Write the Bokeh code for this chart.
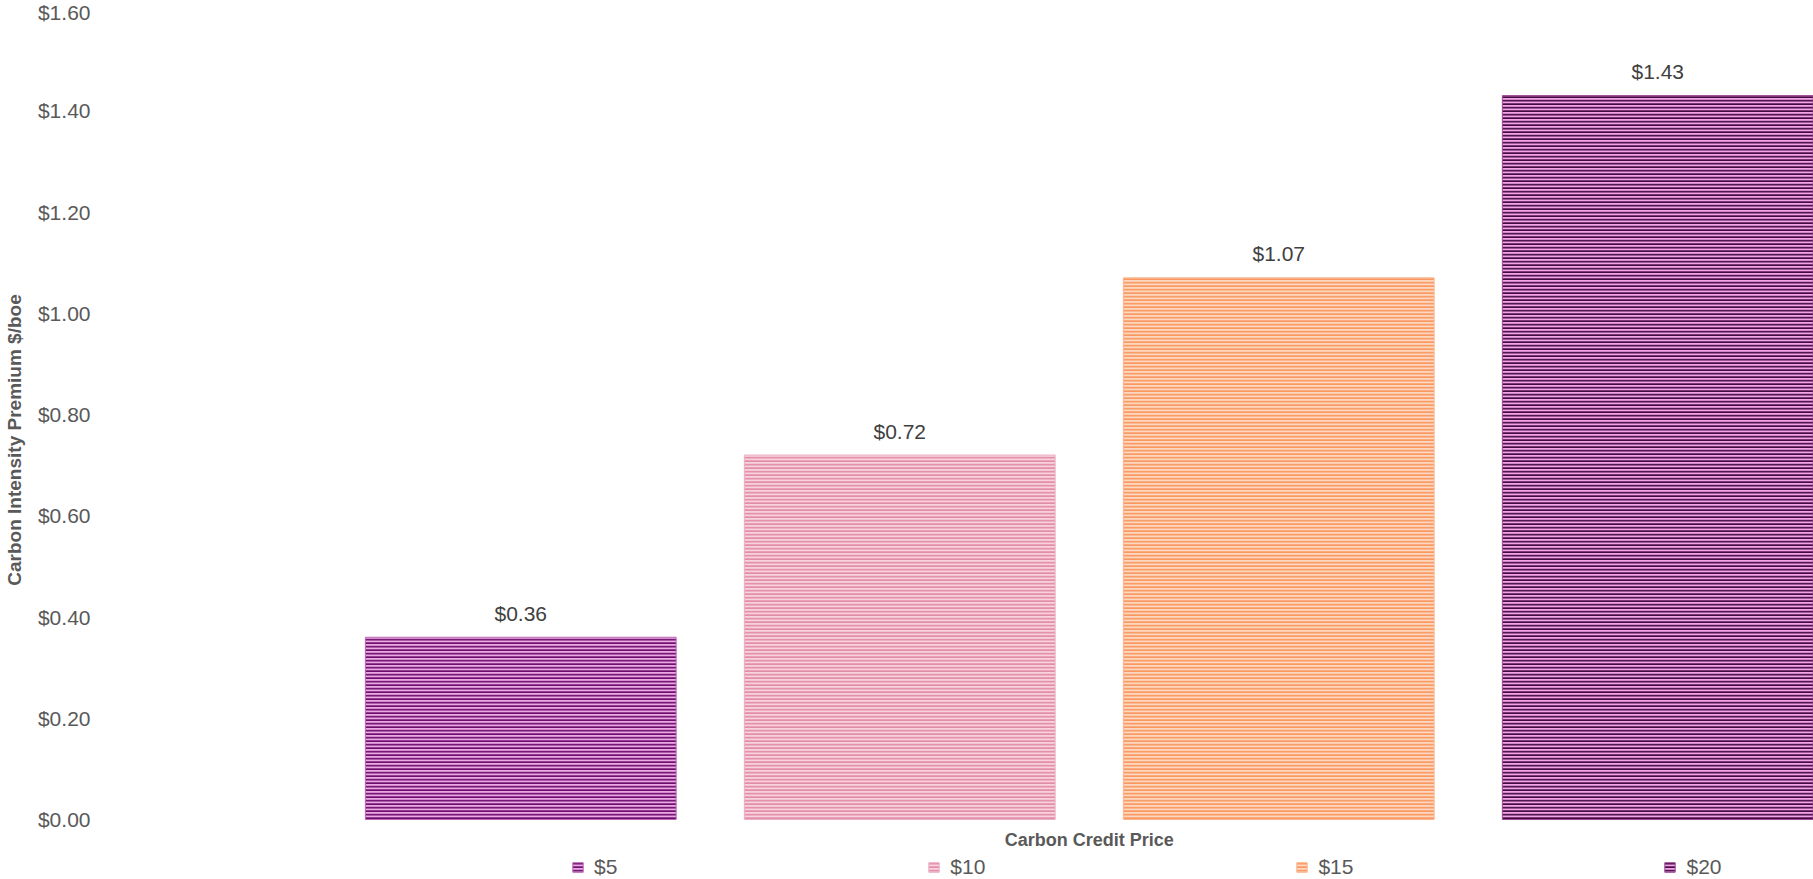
from bokeh.core.properties import value
from bokeh.embed import file_html
from bokeh.models import (ColumnDataSource, FixedTicker, Label, Legend,
                          LegendItem, NumeralTickFormatter, Range1d)
from bokeh.plotting import figure
from bokeh.resources import INLINE

# Carbon intensity premium ($/boe) at each carbon credit price
series = ["$5", "$10", "$15", "$20"]
premium = [0.36, 0.72, 1.07, 1.43]

# Striped fills: stripe colour over a lighter ground
stripe_colors = ["#6c0e6b", "#e38ba8", "#f9975f", "#440a40"]
ground_colors = ["#eba8e5", "#f7d2dd", "#fdd7c0", "#f3a3ea"]
edge_colors = ["#b866b6", "#eab0c3", "#fbb68f", "#9a4a93"]

y_ticks = [0.0, 0.2, 0.4, 0.6, 0.8, 1.0, 1.2, 1.4, 1.6]

positions = [i + 1 for i in range(len(series))]
labels = [f"${v:.2f}" for v in premium]

source = ColumnDataSource(dict(
    x=positions, top=premium, series=series, label=labels,
    stripe=stripe_colors, ground=ground_colors, edge=edge_colors,
))

FONT = "Liberation Sans"

# The frame runs to the bottom edge so the legend and the category title
# can sit inside it, below the zero line.
p = figure(
    width=1813, height=879,
    x_range=Range1d(-0.0535, 4.411),
    y_range=Range1d(-0.1185, 1.6178),
    output_backend="svg", toolbar_location=None,
    min_border_left=120, min_border_right=0,
    min_border_top=0, min_border_bottom=0,
    outline_line_color=None,
)
p.xaxis.visible = False
p.xgrid.visible = False
p.ygrid.visible = False

yax = p.yaxis[0]
yax.ticker = FixedTicker(ticks=y_ticks)
yax.formatter = NumeralTickFormatter(format="$0.00")
yax.axis_line_color = None
yax.major_tick_line_color = None
yax.minor_tick_line_color = None
yax.major_tick_out = 0
yax.major_label_standoff = 31
yax.major_label_text_font = FONT
yax.major_label_text_font_size = "21px"
yax.major_label_text_color = "#595959"
yax.axis_label = "Carbon Intensity Premium $/boe"
yax.axis_label_standoff = 10
yax.axis_label_text_font = FONT
yax.axis_label_text_font_style = "bold"
yax.axis_label_text_font_size = "19px"
yax.axis_label_text_color = "#595959"

bars = p.vbar(
    x="x", top="top", bottom=0, width=0.82, source=source,
    fill_color="ground", line_color="edge", line_width=1,
    hatch_pattern="horizontal_line", hatch_color="stripe",
    hatch_scale=3.5, hatch_weight=1.8,
)

p.text(
    x="x", y="top", text="label", source=source,
    text_align="center", text_baseline="middle", y_offset=-24,
    text_font=value(FONT), text_font_size="21px", text_color="#404040",
)

# Category axis title under the middle of the bar group
p.add_layout(Label(
    x=sum(positions) / len(positions), y=40, x_units="data", y_units="screen",
    text="Carbon Credit Price",
    text_align="center", text_baseline="middle",
    text_font=FONT, text_font_style="bold", text_font_size="18px",
    text_color="#595959",
))

legend = Legend(
    items=[LegendItem(label=s, renderers=[bars], index=i) for i, s in enumerate(series)],
    orientation="horizontal", location=(450, 0),
    padding=0, margin=0, spacing=310,
    glyph_width=13, glyph_height=12, label_standoff=10, label_width=0,
    label_text_font=FONT, label_text_font_size="21px", label_text_color="#595959",
    border_line_color=None, background_fill_alpha=0,
)
p.add_layout(legend, "center")

open("out.html", "w").write(file_html(p, INLINE))
